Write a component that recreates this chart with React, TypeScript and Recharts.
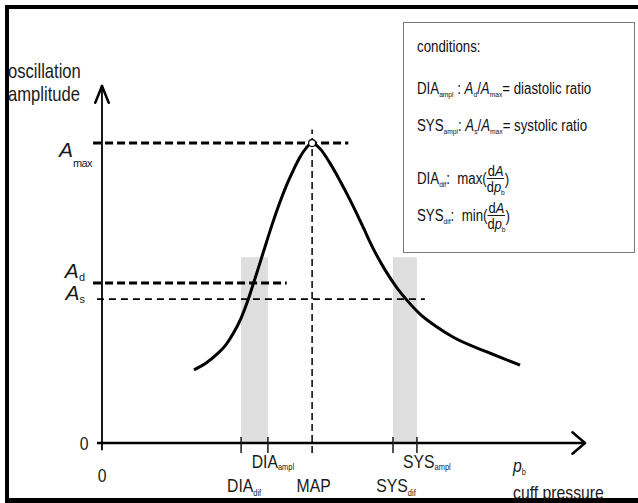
import { ComposedChart, Line, XAxis, YAxis, ReferenceLine, ReferenceArea, ReferenceDot, Legend } from "recharts";

const SANS = '"Liberation Sans", Arial, sans-serif';
const INK = "#1a1a1a";
// the source figure is horizontally squeezed, so its text is narrower than Arial
const SQ = 0.83;

// cuff pressure (arbitrary units 0..200) vs oscillation amplitude (0..1)
const PRESSURE = [38.1, 43.1, 47.6, 51.3, 54.2, 57.6, 60.5, 62.5, 64.6, 67.1, 70.4, 73.7, 76.6, 79.5, 82, 84.5, 87, 90.3, 94.4, 98.6, 102.7, 107.7, 112.2, 117.2, 122.2, 125.9, 131.7, 138.7, 145.3, 159.4, 173.1];
const AMPLITUDE = [0.205, 0.224, 0.249, 0.275, 0.305, 0.35, 0.401, 0.443, 0.487, 0.541, 0.611, 0.675, 0.725, 0.768, 0.801, 0.826, 0.84, 0.824, 0.784, 0.734, 0.681, 0.611, 0.546, 0.485, 0.434, 0.403, 0.361, 0.325, 0.297, 0.255, 0.218];

const A_MAX = 0.84;
const A_D = 0.448;
const A_S = 0.403;
const MAP = 87;
const DIA_DIF = 57.6;
const DIA_AMPL = 68.7;
const SYS_DIF = 120.5;
const SYS_AMPL = 130.4;
const BAND_TOP = 0.52;

const X_TICKS = [0, DIA_DIF, DIA_AMPL, MAP, SYS_DIF, SYS_AMPL, 170.2];
const X_TICK_NAMES = ["0", "DIA", "DIA", "MAP", "SYS", "SYS", "p"];
const X_TICK_SUBS = ["", "dif", "ampl", "", "dif", "ampl", "b"];

const Y_TICKS = [0, A_S, A_D, A_MAX];
const Y_TICK_NAMES = ["0", "A", "A", "A"];
const Y_TICK_SUBS = ["", "s", "d", "max"];

const data = PRESSURE.map((p, i) => ({ p, a: AMPLITUDE[i] }));

function Squeezed({ x, y, anchor = "start", size = 19, children }: any) {
  return (
    <g transform={`translate(${x},${y}) scale(${SQ},1)`}>
      <text x={0} y={0} textAnchor={anchor} fontFamily={SANS} fontSize={size} fill={INK}>
        {children}
      </text>
    </g>
  );
}

function PressureTick(props: any) {
  const { x, y, payload } = props;
  const i = X_TICKS.indexOf(payload.value);
  const name = X_TICK_NAMES[i];
  const sub = X_TICK_SUBS[i];
  if (i === 0) {
    return (
      <Squeezed x={x} y={y + 39} anchor="middle">
        {name}
      </Squeezed>
    );
  }
  if (sub === "b") {
    return (
      <g>
        <Squeezed x={x} y={y + 29}>
          <tspan fontStyle="italic">{name}</tspan>
          <tspan fontSize={9} dy={3} fill={INK}>{sub}</tspan>
        </Squeezed>
        <Squeezed x={x} y={y + 56}>cuff pressure</Squeezed>
      </g>
    );
  }
  const upper = sub === "ampl";
  const shift = sub === "" ? 1.5 : upper ? (name === "SYS" ? 10 : 5) : 3;
  return (
    <g>
      {sub !== "" && <line x1={x} x2={x} y1={y - 6} y2={y + 10} stroke={INK} strokeWidth={1.5} />}
      <Squeezed x={x + shift} y={y + (upper ? 25 : 49)} anchor="middle">
        <tspan>{name}</tspan>
        {sub !== "" && (
          <tspan fontSize={9} dy={upper ? 2 : 4} fill={INK}>
            {sub}
          </tspan>
        )}
      </Squeezed>
    </g>
  );
}

function AmplitudeTick(props: any) {
  const { x, y, payload } = props;
  const i = Y_TICKS.indexOf(payload.value);
  const name = Y_TICK_NAMES[i];
  const sub = Y_TICK_SUBS[i];
  if (sub === "") {
    return (
      <Squeezed x={x - 18} y={y + 7} anchor="middle">
        {name}
      </Squeezed>
    );
  }
  const isMax = sub === "max";
  const base = isMax ? y + 14 : sub === "d" ? y - 5 : y + 1;
  return (
    <text x={x - (isMax ? 10 : 17)} y={base} textAnchor="end" fill={INK} fontFamily={SANS}>
      <tspan fontStyle="italic" fontSize={21}>{name}</tspan>
      <tspan fontSize={11} dy={isMax ? 10 : 3} letterSpacing={isMax ? -0.6 : 0}>
        {sub}
      </tspan>
    </text>
  );
}

function AxisTitle() {
  return (
    <g>
      <Squeezed x={8} y={78} size={20}>oscillation</Squeezed>
      <Squeezed x={8} y={101} size={20}>amplitude</Squeezed>
    </g>
  );
}

const sub = { fontSize: 8, position: "relative" as const, top: 3 };

function Fraction() {
  return (
    <span style={{ display: "inline-flex", flexDirection: "column", alignItems: "center", fontSize: 15.5, lineHeight: "15px" }}>
      <span style={{ borderBottom: `1.3px solid ${INK}`, padding: "0 1px" }}>
        d<i>A</i>
      </span>
      <span>
        d<i>p</i>
        <span style={sub}>b</span>
      </span>
    </span>
  );
}

function Conditions() {
  const row = {
    position: "absolute" as const,
    left: 13,
    lineHeight: "16px",
    whiteSpace: "nowrap" as const,
    transform: `scaleX(${SQ})`,
    transformOrigin: "0 0",
  };
  const fracRow = { ...row, display: "flex", alignItems: "center" };
  return (
    <div
      style={{
        width: 232,
        height: 231,
        boxSizing: "border-box",
        border: "1.5px solid #7a7a7a",
        background: "#fff",
        position: "relative",
        fontFamily: SANS,
        fontSize: 16,
        color: "#111",
        textAlign: "left",
      }}
    >
      <div style={{ ...row, top: 16 }}>conditions:</div>
      <div style={{ ...row, top: 58 }}>
        DIA<span style={sub}>ampl</span> : <i>A</i>
        <span style={sub}>d</span>/<i>A</i>
        <span style={sub}>max</span>= diastolic ratio
      </div>
      <div style={{ ...row, top: 95 }}>
        SYS<span style={sub}>ampl</span>: <i>A</i>
        <span style={sub}>s</span>/<i>A</i>
        <span style={sub}>max</span>= systolic ratio
      </div>
      <div style={{ ...fracRow, top: 140 }}>
        <span>
          DIA<span style={sub}>dif</span>:&nbsp; max(
        </span>
        <Fraction />
        <span>)</span>
      </div>
      <div style={{ ...fracRow, top: 177 }}>
        <span>
          SYS<span style={sub}>dif</span>:&nbsp; min(
        </span>
        <Fraction />
        <span>)</span>
      </div>
    </div>
  );
}

export default function App() {
  return (
    <div style={{ position: "fixed", left: 0, top: 0, width: 638, height: 503, background: "#fff", overflow: "hidden" }}>
      <div
        style={{
          position: "absolute",
          left: 5,
          top: 5,
          width: 633,
          height: 498,
          boxSizing: "border-box",
          borderLeft: "4px solid #000",
          borderTop: "4px solid #000",
          borderBottom: "5px solid #000",
        }}
      />
      <div style={{ position: "absolute", left: 0, top: 0 }}>
        <ComposedChart width={638} height={503} data={data} margin={{ top: 86, right: 53, bottom: 0, left: 0 }}>
          <XAxis
            type="number"
            dataKey="p"
            domain={[0, 200]}
            ticks={X_TICKS}
            interval={0}
            axisLine={false}
            tickLine={false}
            tickSize={0}
            tickMargin={0}
            height={60}
            tick={<PressureTick />}
            allowDataOverflow
          />
          <YAxis
            type="number"
            domain={[0, 1]}
            ticks={Y_TICKS}
            interval={0}
            axisLine={false}
            tickLine={false}
            tickSize={0}
            tickMargin={0}
            width={102}
            tick={<AmplitudeTick />}
            label={<AxisTitle />}
          />
          <ReferenceArea x1={DIA_DIF} x2={DIA_AMPL} y1={0} y2={BAND_TOP} fill="#dedede" fillOpacity={1} stroke="none" />
          <ReferenceArea x1={SYS_DIF} x2={SYS_AMPL} y1={0} y2={BAND_TOP} fill="#dedede" fillOpacity={1} stroke="none" />
          <ReferenceLine segment={[{ x: -3.7, y: A_MAX }, { x: 102, y: A_MAX }]} stroke="#000" strokeWidth={3} strokeDasharray="8 4" ifOverflow="visible" />
          <ReferenceLine segment={[{ x: -3.7, y: A_D }, { x: 76.5, y: A_D }]} stroke="#000" strokeWidth={3} strokeDasharray="8 4" ifOverflow="visible" />
          <ReferenceLine segment={[{ x: -2.1, y: A_S }, { x: 133.7, y: A_S }]} stroke="#000" strokeWidth={1.8} strokeDasharray="7 5" ifOverflow="visible" />
          <ReferenceLine segment={[{ x: MAP, y: -0.028 }, { x: MAP, y: 0.878 }]} stroke="#000" strokeWidth={1.5} strokeDasharray="7 4" ifOverflow="visible" />
          <ReferenceLine segment={[{ x: -2.1, y: 0 }, { x: 200, y: 0 }]} stroke="#000" strokeWidth={2.5} ifOverflow="visible" />
          <ReferenceLine segment={[{ x: 0, y: -0.02 }, { x: 0, y: 1 }]} stroke="#000" strokeWidth={1.8} ifOverflow="visible" />
          <ReferenceLine segment={[{ x: 194.8, y: 0.03 }, { x: 200, y: 0 }]} stroke="#000" strokeWidth={2.5} strokeLinecap="round" ifOverflow="visible" />
          <ReferenceLine segment={[{ x: 194.8, y: -0.03 }, { x: 200, y: 0 }]} stroke="#000" strokeWidth={2.5} strokeLinecap="round" ifOverflow="visible" />
          <ReferenceLine segment={[{ x: -2.8, y: 0.953 }, { x: 0, y: 1 }]} stroke="#000" strokeWidth={2.5} strokeLinecap="round" ifOverflow="visible" />
          <ReferenceLine segment={[{ x: 2.8, y: 0.953 }, { x: 0, y: 1 }]} stroke="#000" strokeWidth={2.5} strokeLinecap="round" ifOverflow="visible" />
          <Line type="monotone" dataKey="a" stroke="#000" strokeWidth={3} dot={false} activeDot={false} isAnimationActive={false} />
          <ReferenceDot x={MAP} y={A_MAX} r={3.5} fill="#fff" stroke="#000" strokeWidth={1.2} ifOverflow="visible" />
          <Legend
            layout="horizontal"
            verticalAlign="middle"
            align="center"
            wrapperStyle={{ left: 403, top: 22, width: 232, height: 231 }}
            content={() => <Conditions />}
          />
        </ComposedChart>
      </div>
    </div>
  );
}
